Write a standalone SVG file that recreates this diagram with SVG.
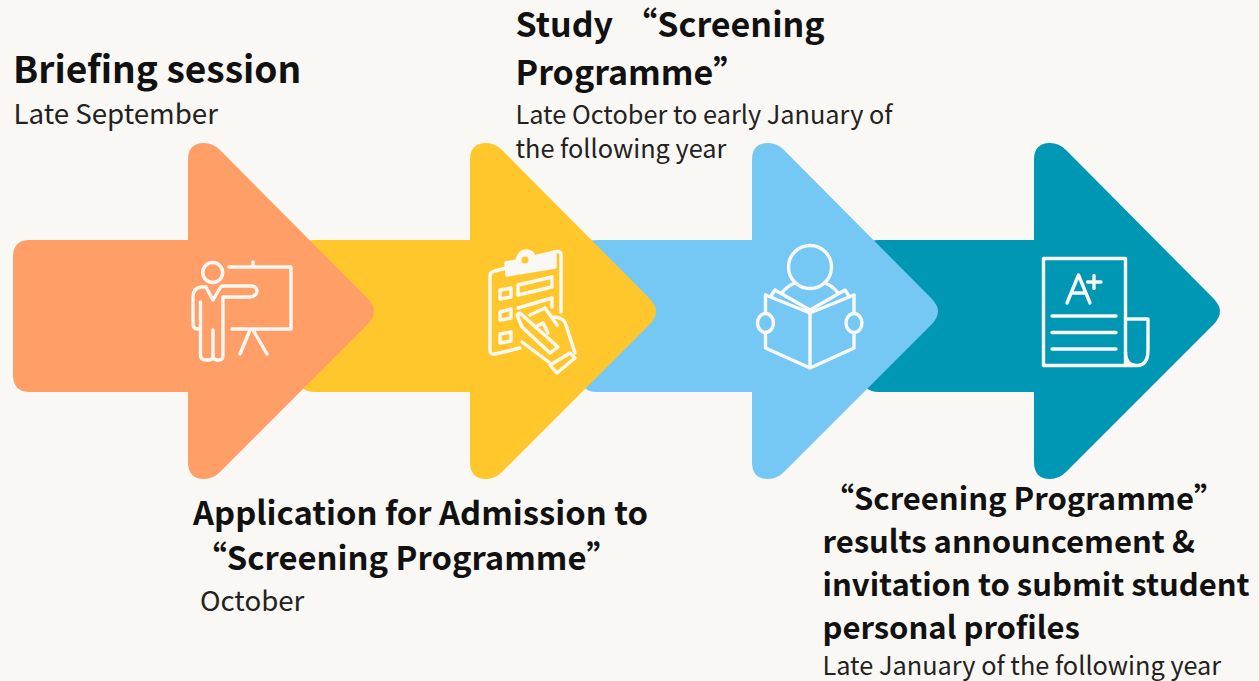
<svg xmlns="http://www.w3.org/2000/svg" xmlns:xlink="http://www.w3.org/1999/xlink" width="1259" height="681" viewBox="0 0 1259 681">
<style>
text{font-family:"Noto Sans CJK SC","Noto Sans",sans-serif;fill:#111}
.h{font-weight:700;font-size:34px}
.h2{font-weight:700;font-size:31px}
.h3{font-weight:700;font-size:32.800px}
.s{font-size:25.300px;fill:#222}
.b{font-size:27.700px;fill:#222}
.i{fill:none;stroke:#faf8f4;stroke-width:3.400;stroke-linecap:round;stroke-linejoin:round}
</style>
<defs>
<path id="arrow" d="M188 160Q188 143 204 143Q213 143 220 150L367 298Q374 305 374 311Q374 318 367 325L220 472Q213 479 204 479Q188 479 188 462V392H30Q13 392 13 375V257Q13 240 30 240H188Z"/>
<path id="arrow2" d="M188 160Q188 143 204 143Q213 143 220 150L367 298Q374 305 374 311Q374 318 367 325L220 472Q213 479 204 479Q188 479 188 462V392H33Q16 392 16 375V257Q16 240 33 240H188Z"/>
</defs>
<rect width="1259" height="681" fill="#faf8f4"/>
<g id="connectors"></g>
<g id="step4">
<use xlink:href="#arrow2" href="#arrow2" x="846" fill="#0097b5"/>
<g class="i">
<path d="M1043.500 258.500H1125.500V365.500H1043.500Z"/>
<path d="M1067 303L1078.500 275L1090 303M1071.500 293H1086M1087.500 282H1101M1094 275.500V288.500"/>
<path d="M1052 316H1116M1052 332.500H1116M1052 349H1116"/>
<path d="M1125.500 319H1148V350Q1148 365.500 1137 365.500H1125.500M1137 365.500Q1125.500 365.500 1125.500 352"/>
</g>
</g>
<g id="step3">
<use xlink:href="#arrow2" href="#arrow2" x="564" fill="#75c8f4"/>
<g class="i">
<circle cx="810" cy="267" r="21.500"/>
<path d="M782 293Q787 286 795 283M825 283Q833 286 838 293"/>
<path d="M765.500 295V348L810 368L854 348V295M810 313V368"/>
<path d="M765.500 295L810 313L854 295M771 296L775 290L810 310L845 290L849 296"/>
<ellipse cx="765.500" cy="323" rx="8" ry="9.500" fill="#75c8f4"/>
<ellipse cx="854" cy="323" rx="8" ry="9.500" fill="#75c8f4"/>
</g>
</g>
<g id="step2">
<use xlink:href="#arrow2" href="#arrow2" x="282" fill="#ffc72c"/>
<g class="i">
<path d="M555 252L557 251.500Q561 251 561 255V312M520 348L495 354Q490 355 490 350V276Q490 272 495 271L506 268"/>
<path d="M506 263L517 261Q519 251 526 251Q533 251 534 257L555 252V267L507 275Z" fill="#faf8f4"/>
<circle cx="525" cy="260" r="3.500" fill="#ffc72c" stroke="none"/>
<path d="M518 285L552 277V287L518 295ZM500 290L511 288V297L500 299ZM518 308L552 298V307M500 312L511 309V318L500 320ZM500 334L511 332V341L500 343Z"/>
<path d="M517 315L520 313L558 347L550 353L522 327ZM530 315L545 308L557 325M553 317Q561 317 565 322L575 353M522 342L550 363M535 327L543 323L548 333"/>
<path d="M550 365L570 353L575 358L557 373Z"/>
</g>
</g>
<g id="step1">
<use xlink:href="#arrow" href="#arrow" fill="#ff9e67"/>
<g class="i">
<circle cx="212.700" cy="272.500" r="10"/>
<path d="M229 267H291V329H232M253 262V267M250 330L240 354M253 330L267 354"/>
<path d="M206 287H201Q193 288 193 297V324Q193 329 198 329H200.500V302M200.500 329V355Q200.500 360 206 360H209Q213 360 213 355V330M213 355Q213 360 217 360H219Q223 360 223 355V297H250Q257 296 257 291Q257 286 250 286H224Q221 286 220 288L213 300L206 287"/>
</g>
</g>
<g id="label1">
<text class="h" style="font-size:37.100px" x="13" y="83">Briefing session</text>
<text class="b" x="13.500" y="124">Late September</text>
</g>
<g id="label2">
<text class="h3" x="193" y="525">Application for Admission to</text>
<text class="h3" x="194" y="570">“Screening Programme”</text>
<text class="b" x="200" y="611">October</text>
</g>
<g id="label3">
<text class="h" style="word-spacing:-4.300px" x="515.500" y="37" xml:space="preserve">Study   “Screening</text>
<text class="h" x="515.500" y="85">Programme”</text>
<text class="s" x="515.500" y="124">Late October to early January of</text>
<text class="s" x="515.500" y="158">the following year</text>
</g>
<g id="label4">
<text class="h2" x="823" y="510">“Screening Programme”</text>
<text class="h2" x="822.500" y="553">results announcement &amp;</text>
<text class="h2" x="822.500" y="596">invitation to submit student</text>
<text class="h2" x="822.500" y="639">personal profiles</text>
<text class="s" x="822.500" y="675">Late January of the following year</text>
</g>
</svg>
